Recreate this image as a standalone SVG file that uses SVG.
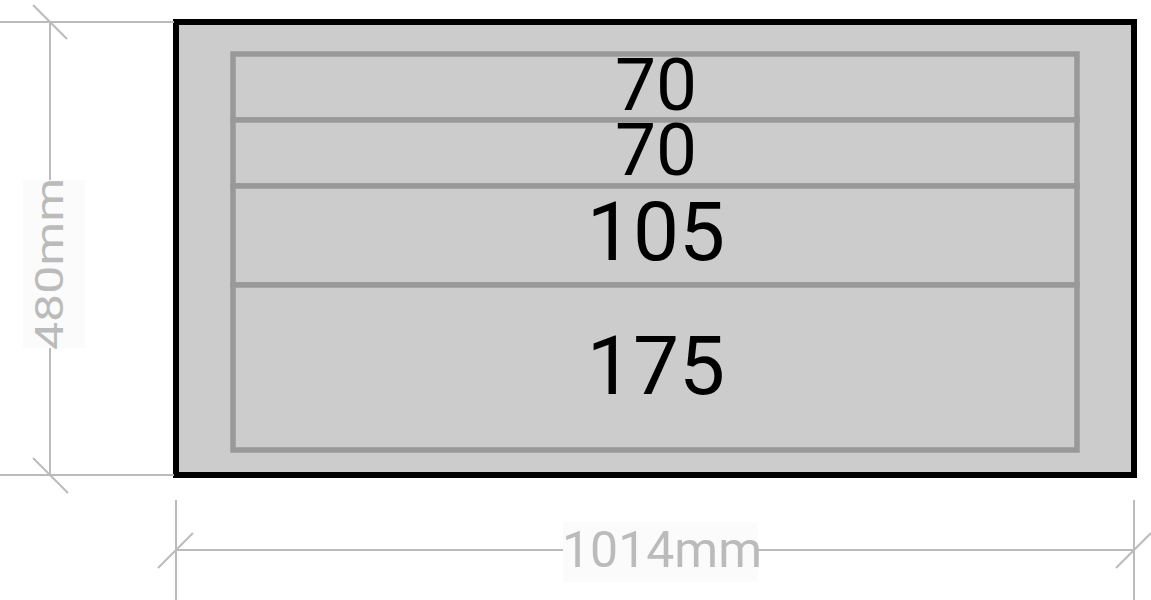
<svg xmlns="http://www.w3.org/2000/svg" width="1151" height="600" viewBox="0 0 1151 600">
<style>
.dim{stroke:#bbb;stroke-width:2;fill:none}
.lbl{fill:#bbb;font-family:Roboto,"Liberation Sans",sans-serif;text-anchor:middle}
.lblbg{fill:#fbfbfb}
.drawer{fill:#ccc;stroke:#999;stroke-width:5.5}
.num{fill:#000;font-family:Roboto,"Liberation Sans",sans-serif;text-anchor:middle}
</style>
<rect width="1151" height="600" fill="#fff"/>
<g id="cabinet">
<rect x="176" y="22" width="958" height="453" fill="#ccc" stroke="#000" stroke-width="6"/>
</g>
<g id="drawer1">
<rect class="drawer" x="233" y="54" width="844" height="66"/>
<text class="num" x="656" y="110" font-size="73">70</text>
</g>
<g id="drawer2">
<rect class="drawer" x="233" y="120" width="844" height="66"/>
<text class="num" x="656" y="175" font-size="73">70</text>
</g>
<g id="drawer3">
<rect class="drawer" x="233" y="186" width="844" height="99"/>
<text class="num" x="656" y="260" font-size="82">105</text>
</g>
<g id="drawer4">
<rect class="drawer" x="233" y="285" width="844" height="165"/>
<text class="num" x="656" y="394" font-size="82">175</text>
</g>
<g id="connectors">
<line class="dim" x1="0" y1="22" x2="174" y2="22"/>
<line class="dim" x1="0" y1="475" x2="174" y2="475"/>
<line class="dim" x1="50" y1="22" x2="50" y2="475"/>
<line class="dim" x1="33" y1="5" x2="67" y2="39"/>
<line class="dim" x1="33" y1="458" x2="68" y2="493"/>
<line class="dim" x1="176" y1="500" x2="176" y2="600"/>
<line class="dim" x1="1134" y1="500" x2="1134" y2="600"/>
<line class="dim" x1="176" y1="550" x2="1134" y2="550"/>
<line class="dim" x1="158" y1="568" x2="193" y2="533"/>
<line class="dim" x1="1116" y1="568" x2="1151" y2="533"/>
</g>
<g id="height-label">
<rect class="lblbg" x="23" y="180" width="62" height="168"/>
<text class="lbl" transform="translate(63 264) rotate(-90)" x="0" y="0" font-size="39" textLength="172" lengthAdjust="spacingAndGlyphs">480mm</text>
</g>
<g id="width-label">
<rect class="lblbg" x="563" y="522" width="195" height="60"/>
<text class="lbl" x="662" y="567" font-size="50">1014mm</text>
</g>
</svg>
